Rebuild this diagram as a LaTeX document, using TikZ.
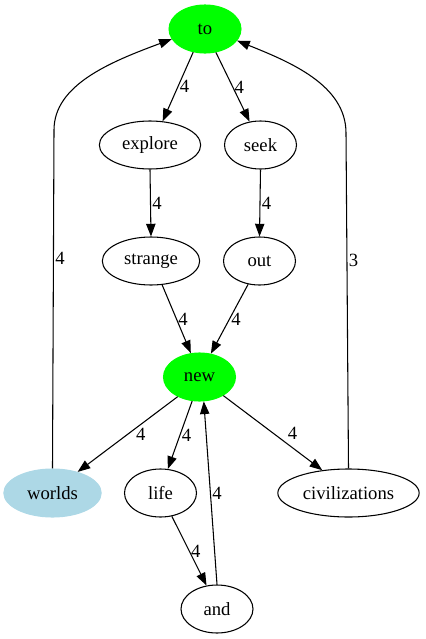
\documentclass[tikz,border=0pt]{standalone}
\usepackage{fontspec}
\setmainfont{Liberation Serif}
\usepackage{tikz}
\usetikzlibrary{arrows.meta}
\usetikzlibrary{shapes.geometric}
\definecolor{gvgreen}{HTML}{00FF00}
\definecolor{gvblue}{HTML}{ADD8E6}
\tikzset{word/.style = {draw, ellipse, line width = 0.8pt, minimum width = 54pt, minimum height = 36pt, inner sep = 1.5pt, font = \fontsize{14}{16}\selectfont}}
\tikzset{hot/.style = {word, draw = gvgreen, fill = gvgreen}}
\tikzset{cold/.style = {word, draw = gvblue, fill = gvblue}}
\tikzset{edge/.style = {line width = 0.8pt, -{Triangle[length = 9.5pt, width = 7pt]}}}
\tikzset{lbl/.style = {right, inner sep = 1pt, font = \fontsize{14}{16}\selectfont}}

\begin{document}
\begin{tikzpicture}[x = 0.75pt, y = -0.75pt]
      \useasboundingbox (0, 0) rectangle (425, 639);

      \node[hot] (to) at (205, 29) {to};
      \node[word, minimum width = 76pt] (explore) at (150, 145) {explore};
      \node[word] (seek) at (260.5, 145) {seek};
      \node[word, minimum width = 73pt] (strange) at (151, 261) {strange};
      \node[word] (out) at (259.5, 261) {out};
      \node[hot] (new) at (199.5, 377) {new};
      \node[cold, minimum width = 73pt] (worlds) at (52.5, 493) {worlds};
      \node[word] (life) at (160.5, 493) {life};
      \node[word, minimum width = 106pt] (civilizations) at (348.5, 493) {civilizations};
      \node[word] (and) at (217, 609) {and};

      \draw[edge] (to.-117) -- node[lbl] {4} (explore.62);
      \draw[edge] (to.-65) -- node[lbl] {4} (seek.115);
      \draw[edge] (explore.south) -- node[lbl] {4} (strange.north);
      \draw[edge] (seek.south) -- node[lbl] {4} (out.north);
      \draw[edge] (strange.-65) -- node[lbl] {4} (new.110);
      \draw[edge] (out.-116) -- node[lbl] {4} (new.64);

      \draw[edge] (new.-138) -- node[lbl, xshift = 5pt] {4} (worlds.40);
      \draw[edge] (new.-107) -- node[lbl] {4} (life.73);
      \draw[edge] (new.-38) -- node[lbl, xshift = 10pt] {4} (civilizations.139);
      \draw[edge] (life.-64) -- node[lbl] {4} (and.114);
      \draw[edge] (and.north) -- node[lbl] {4} (new.-80);

      \draw[edge] (worlds.north) -- node[lbl, pos = 0.62] {4} (54, 130)
            .. controls (54, 85) and (110, 62) .. (to.-163);
      \draw[edge] (civilizations.north) -- node[lbl, pos = 0.62] {3} (346, 133)
            .. controls (346, 85) and (290, 62) .. (to.-20);
    \end{tikzpicture}
\end{document}
